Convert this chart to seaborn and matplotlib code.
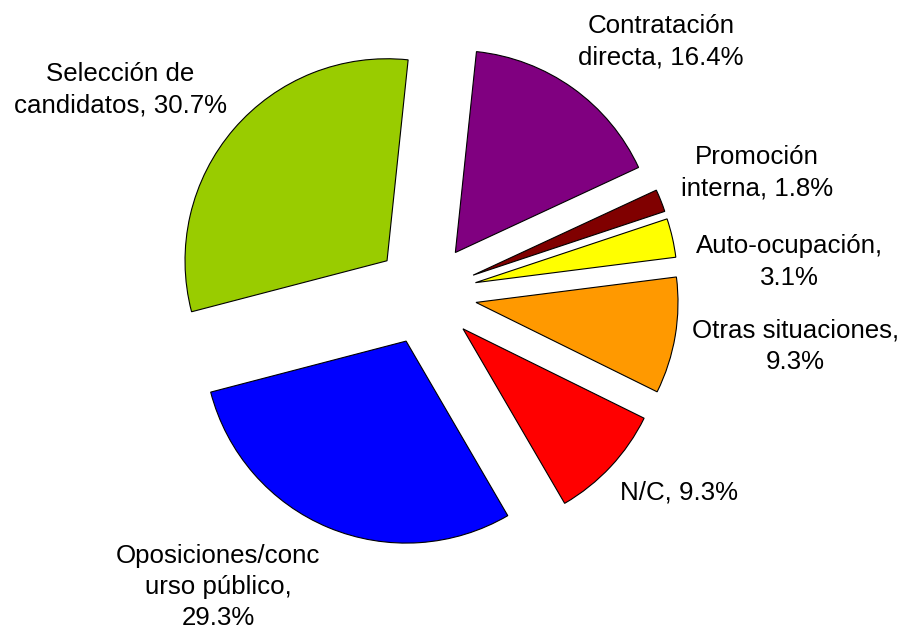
import matplotlib
matplotlib.use("Agg")
import matplotlib.pyplot as plt
import seaborn as sns

# --- data (clockwise from the top) ---
categories = [
    "Contratación\ndirecta",
    "Promoción\ninterna",
    "Auto-ocupación,\n",
    "Otras situaciones,\n",
    "N/C",
    "Oposiciones/conc\nurso público,\n",
    "Selección de\ncandidatos",
]
percentages = [16.4, 1.8, 3.1, 9.3, 9.3, 29.3, 30.7]
slice_colors = ["#800080", "#800000", "#FFFF00", "#FF9900",
                "#FF0000", "#0000FF", "#99CC00"]

# label centres in axes data units (pie radius = 1)
label_xy = [(1.165, 1.248), (1.640, 0.599), (1.799, 0.158), (1.830, -0.257),
            (1.254, -0.985), (-1.028, -1.450), (-1.513, 1.010)]

sns.set_style("white")
plt.rcParams["font.family"] = ["Liberation Sans", "DejaVu Sans"]
palette = sns.color_palette(slice_colors)

W, H = 903, 631
fig = plt.figure(figsize=(W / 100, H / 100), dpi=100)
ax = fig.add_axes([0, 0, 1, 1])

wedges, _ = ax.pie(
    percentages,
    colors=palette,
    explode=[0.2525] * len(percentages),
    startangle=84,
    counterclock=False,
    radius=1,
    wedgeprops=dict(edgecolor="black", linewidth=0.8),
)

for cat, pct, (x, y) in zip(categories, percentages, label_xy):
    if cat.endswith("\n"):
        text = f"{cat}{pct:.1f}%"
    else:
        text = f"{cat}, {pct:.1f}%"
    ax.text(x, y, text, ha="center", va="center", fontsize=18.6,
            linespacing=1.38, color="black", multialignment="center")

# pie centre at pixel (425.7, 294), radius 202 px
cx, cy, r = 425.7, 294.0, 202.0
ax.set_xlim(-cx / r, (W - cx) / r)
ax.set_ylim(-(H - cy) / r, cy / r)
ax.set_aspect("equal")
ax.axis("off")

fig.savefig("out.png", dpi=100, facecolor="white")
